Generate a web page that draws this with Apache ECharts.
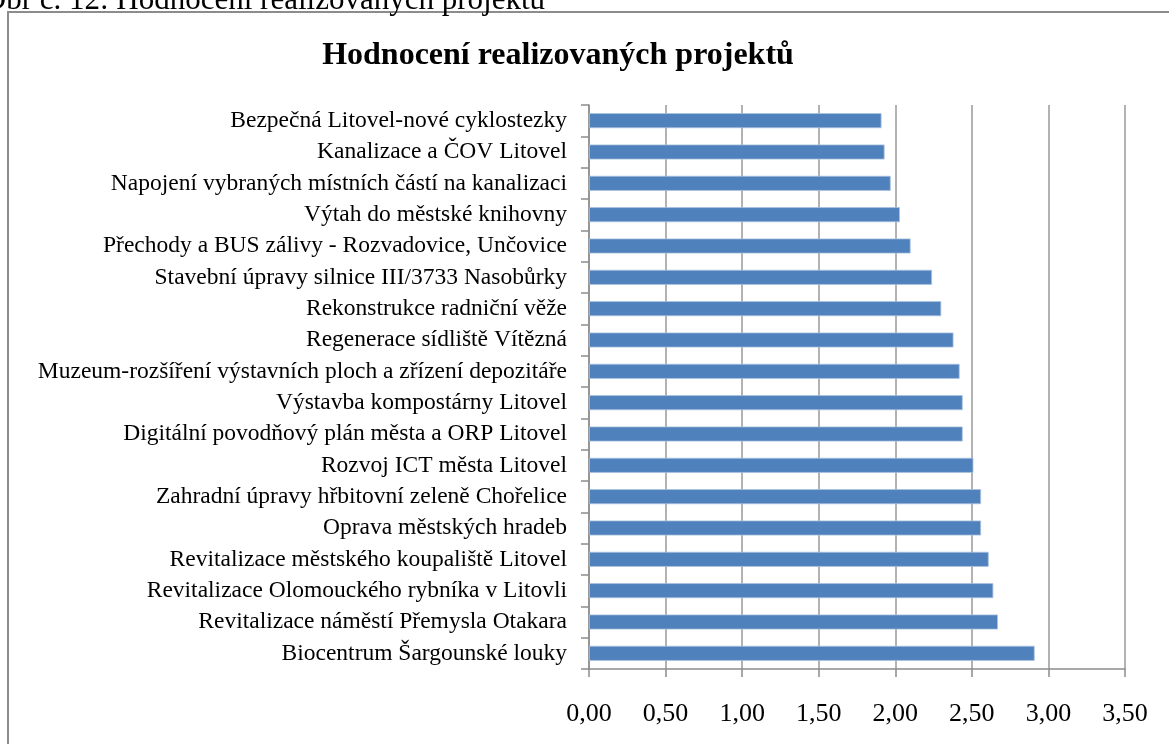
<!DOCTYPE html>
<html>
<head>
    <meta http-equiv="Content-Type" content="text/html; charset=utf-8"/>
    <script src="https://cdn.jsdelivr.net/npm/echarts@6/dist/echarts.min.js"></script>
    <style>
        html, body { margin: 0; padding: 0; background: #fff; }
    </style>
</head>
<body>

<div id="graf" style="width: 1169px; height: 744px;"></div>

<script type="text/javascript">
    // projekty shora dolu
    var projekty = [
        'Bezpečná Litovel-nové cyklostezky',
        'Kanalizace a ČOV Litovel',
        'Napojení vybraných místních částí na kanalizaci',
        'Výtah do městské knihovny',
        'Přechody a BUS zálivy - Rozvadovice, Unčovice',
        'Stavební úpravy silnice III/3733 Nasobůrky',
        'Rekonstrukce radniční věže',
        'Regenerace sídliště Vítězná',
        'Muzeum-rozšíření výstavních ploch a zřízení depozitáře',
        'Výstavba kompostárny Litovel',
        'Digitální povodňový plán města a ORP Litovel',
        'Rozvoj ICT města Litovel',
        'Zahradní úpravy hřbitovní zeleně Chořelice',
        'Oprava městských hradeb',
        'Revitalizace městského koupaliště Litovel',
        'Revitalizace Olomouckého rybníka v Litovli',
        'Revitalizace náměstí Přemysla Otakara',
        'Biocentrum Šargounské louky'
    ];
    var hodnoceni = [1.91, 1.93, 1.97, 2.03, 2.10, 2.24, 2.30, 2.38, 2.42, 2.44,
                     2.44, 2.51, 2.56, 2.56, 2.61, 2.64, 2.67, 2.91];
    var osaX = {min: 0, max: 3.5, interval: 0.5};

    var font = 'Liberation Serif, Times New Roman, serif';
    var graf = echarts.init(document.getElementById('graf'));

    var option = {
        animation: false,
        backgroundColor: '#fff',
        title: {
            text: 'Hodnocení realizovaných projektů',
            left: 553,
            textAlign: 'center',
            top: 35,
            textStyle: {
                fontFamily: font,
                fontSize: 32,
                fontWeight: 'bold',
                color: '#000'
            }
        },
        /* ramecek grafu a popisek nad nim (orizly hornim okrajem) */
        graphic: [
            {
                type: 'rect',
                shape: {x: 8, y: 12, width: 1200, height: 800},
                style: {fill: 'none', stroke: '#8c8c8c', lineWidth: 2},
                z: -1
            },
            {
                type: 'text',
                x: 545,
                y: 16,
                style: {
                    text: 'Obr č. 12: Hodnocení realizovaných projektů',
                    fontFamily: font,
                    fontSize: 31,
                    fill: '#000',
                    textAlign: 'right',
                    textVerticalAlign: 'bottom'
                }
            }
        ],
        grid: {
            left: 589,
            right: 44,
            top: 105,
            bottom: 75
        },
        xAxis: {
            type: 'value',
            min: osaX.min,
            max: osaX.max,
            interval: osaX.interval,
            axisLine: {show: true, lineStyle: {color: '#8c8c8c', width: 1.5}},
            axisTick: {show: true, length: 8, lineStyle: {color: '#8c8c8c', width: 1.5}},
            splitLine: {show: true, lineStyle: {color: '#999', width: 1.5}},
            axisLabel: {
                margin: 32,
                fontFamily: font,
                fontSize: 26,
                color: '#000',
                formatter: function (v) {
                    return v.toFixed(2).replace('.', ',');
                }
            }
        },
        yAxis: {
            type: 'category',
            data: projekty,
            inverse: true,
            axisLine: {show: true, lineStyle: {color: '#8c8c8c', width: 1.5}},
            axisTick: {show: true, length: 8, lineStyle: {color: '#8c8c8c', width: 1.5}},
            axisLabel: {
                margin: 22,
                fontFamily: font,
                fontSize: 23.5,
                color: '#000'
            }
        },
        series: [{
            type: 'bar',
            data: hodnoceni,
            barWidth: 15,
            itemStyle: {
                color: '#4f81bd',
                borderColor: '#a9c1df',
                borderWidth: 0.8
            }
        }]
    };

    graf.setOption(option);
</script>

</body>
</html>
